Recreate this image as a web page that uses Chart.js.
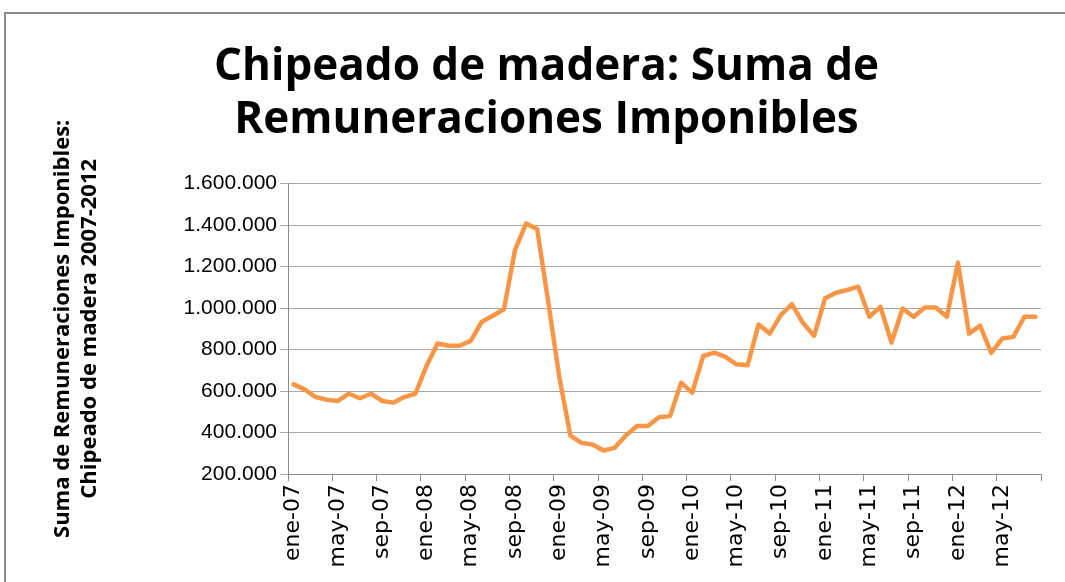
<!DOCTYPE html>
<html>
<head>
<meta charset="utf-8">
<script src="https://cdn.jsdelivr.net/npm/chart.js@4"></script>
<style>
  html, body { margin: 0; padding: 0; background: #fff; }
</style>
</head>
<body>
<canvas id="chart" width="1065" height="582"></canvas>
<script>
// meses y años del eje X (ene-07 .. ago-12)
const meses = ['ene', 'feb', 'mar', 'abr', 'may', 'jun', 'jul', 'ago', 'sep', 'oct', 'nov', 'dic'];
const anios = ['07', '08', '09', '10', '11', '12'];
const etiquetas = [];
anios.forEach(a => meses.forEach(m => etiquetas.push(m + '-' + a)));
etiquetas.length = 68;

// Suma de remuneraciones imponibles
const remuneraciones = [
  632000, 608000, 571000, 558000, 552000, 587000, 565000, 587000, 552000, 544000, 571000, 587000,
  720000, 829000, 818000, 818000, 842000, 934000, 963000, 994000, 1281000, 1407000, 1381000, 1030000,
  668000, 385000, 350000, 342000, 313000, 326000, 385000, 431000, 431000, 474000, 479000, 640000,
  592000, 769000, 785000, 765000, 729000, 724000, 921000, 877000, 966000, 1019000, 929000, 866000,
  1047000, 1074000, 1087000, 1103000, 958000, 1006000, 834000, 998000, 958000, 1003000, 1003000, 958000,
  1219000, 877000, 915000, 784000, 853000, 861000, 958000, 958000
];

const titulo = ['Chipeado de madera: Suma de', 'Remuneraciones Imponibles'];
const tituloEjeY = ['Suma de Remuneraciones Imponibles:', 'Chipeado de madera 2007-2012'];

function miles(v) {
  return v.toString().replace(/\B(?=(\d{3})+(?!\d))/g, '.');
}

const marco = {
  id: 'marco',
  beforeDraw(chart) {
    const c = chart.ctx;
    c.save();
    c.fillStyle = '#fff';
    c.fillRect(0, 0, chart.width, chart.height);
    c.strokeStyle = '#8c8c8c';
    c.lineWidth = 2;
    c.strokeRect(5, 13, chart.width + 20, chart.height + 20);
    c.restore();
  }
};

const ctx = document.getElementById('chart').getContext('2d');
new Chart(ctx, {
  type: 'line',
  data: {
    labels: etiquetas,
    datasets: [{
      data: remuneraciones,
      borderColor: '#F79646',
      borderWidth: 4.5,
      pointRadius: 0,
      tension: 0,
      borderJoinStyle: 'round',
      borderCapStyle: 'round'
    }]
  },
  options: {
    responsive: false,
    animation: false,
    layout: { padding: { left: 46, right: 18, top: 0, bottom: 0 } },
    plugins: {
      legend: { display: false },
      tooltip: { enabled: false },
      title: {
        display: true,
        text: titulo,
        color: '#000',
        font: { family: 'Open Sans', size: 44, weight: 'bold', lineHeight: 1.2 },
        padding: { top: 41, bottom: 37 }
      }
    },
    scales: {
      x: {
        offset: true,
        grid: {
          offset: true,
          drawOnChartArea: false,
          tickLength: 7,
          tickColor: c => (c.type !== 'tick' || c.index % 4 === 0) ? '#8c8c8c' : 'rgba(0,0,0,0)'
        },
        border: { color: '#8c8c8c', width: 1 },
        ticks: {
          autoSkip: false,
          minRotation: 90,
          maxRotation: 90,
          color: '#000',
          font: { family: 'DejaVu Sans', size: 22 },
          callback: (v, i) => i % 4 === 0 ? etiquetas[i] : ''
        },
        afterFit: s => { s.height = 108; }
      },
      y: {
        min: 200000,
        max: 1600000,
        ticks: {
          stepSize: 200000,
          color: '#000',
          padding: 3,
          font: { family: 'Liberation Sans', size: 21 },
          callback: v => miles(v)
        },
        grid: { color: '#a6a6a6', tickLength: 8 },
        border: { color: '#8c8c8c', width: 1 },
        title: {
          display: true,
          text: tituloEjeY,
          color: '#000',
          font: { family: 'Open Sans', size: 22, weight: 'bold', lineHeight: 1.2 }
        },
        afterFit: s => { s.width = 242; }
      }
    }
  },
  plugins: [marco]
});
</script>
</body>
</html>
